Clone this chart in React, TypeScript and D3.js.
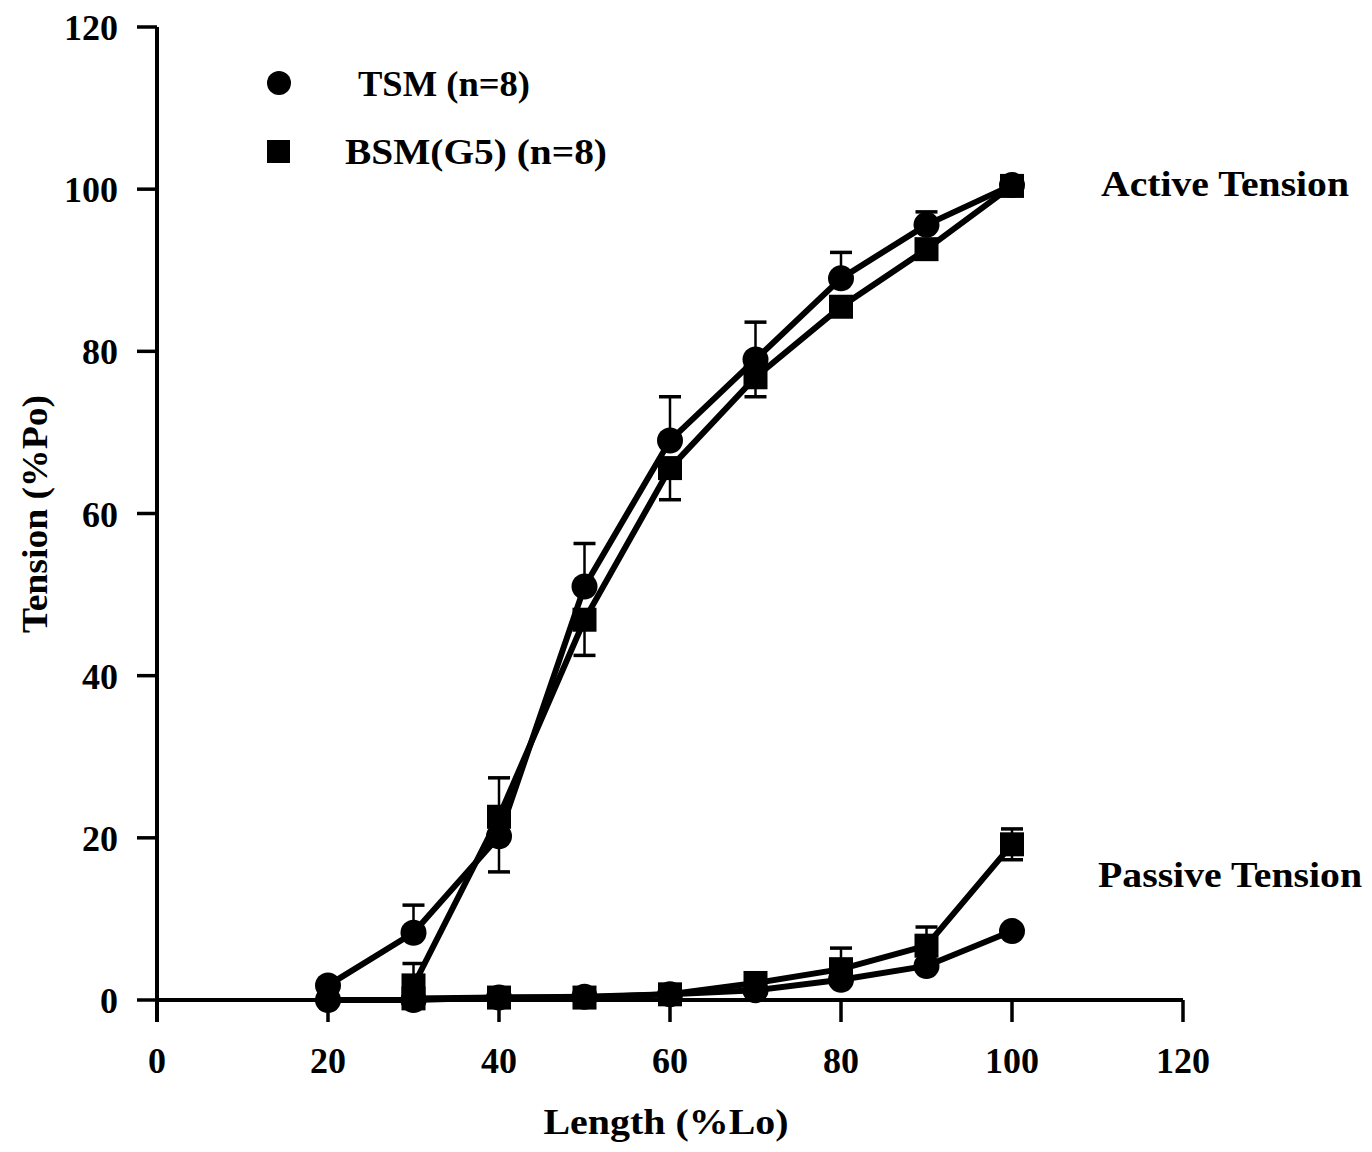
import { line, scaleLinear } from "d3";

const lengths = [20, 30, 40, 50, 60, 70, 80, 90, 100];

const tsmActive = [1.8, 8.3, 20.2, 51, 69, 79, 89, 95.6, 100.5];
const tsmActiveUp = [0, 3.4, 0, 5.3, 5.4, 4.6, 3.2, 1.6, 0];
const tsmActiveDown = [0, 0, 4.4, 0, 0, 0, 0, 0, 0];

const bsmActive = [null, 1.8, 22.6, 46.9, 65.6, 76.8, 85.5, 92.6, 100.4];
const bsmActiveUp = [0, 2.7, 4.8, 0, 0, 0, 0, 0, 0];
const bsmActiveDown = [0, 0, 0, 4.4, 3.9, 2.4, 0, 0, 0];

const tsmPassive = [0, 0, 0.3, 0.4, 0.7, 1.2, 2.5, 4.2, 8.5];
const bsmPassive = [null, 0.2, 0.3, 0.3, 0.7, 2.1, 3.8, 6.7, 19.2];
const bsmPassiveUp = [0, 0, 0, 0, 0, 0, 2.6, 2.3, 1.9];
const bsmPassiveDown = [0, 0, 0, 0, 0, 0, 0, 0, 1.9];

const ticks = [0, 20, 40, 60, 80, 100, 120];

type Pt = { x: number; y: number; up: number; down: number };

function toPoints(values: (number | null)[], up?: number[], down?: number[]): Pt[] {
  const out: Pt[] = [];
  values.forEach((v, i) => {
    if (v === null) return;
    out.push({ x: lengths[i], y: v, up: up ? up[i] : 0, down: down ? down[i] : 0 });
  });
  return out;
}

const series = [
  { shape: "circle", pts: toPoints(tsmActive, tsmActiveUp, tsmActiveDown) },
  { shape: "square", pts: toPoints(bsmActive, bsmActiveUp, bsmActiveDown) },
  { shape: "circle", pts: toPoints(tsmPassive) },
  { shape: "square", pts: toPoints(bsmPassive, bsmPassiveUp, bsmPassiveDown) },
];

const font = "'Liberation Serif', 'Times New Roman', serif";

export default function App() {
  const width = 1372;
  const height = 1152;

  const x = scaleLinear().domain([0, 120]).range([157, 1183]);
  const y = scaleLinear().domain([0, 120]).range([1000, 27]);

  const path = line<Pt>()
    .x((d) => x(d.x))
    .y((d) => y(d.y));

  const cap = 11;

  return (
    <svg
      width={width}
      height={height}
      viewBox={`0 0 ${width} ${height}`}
      style={{ position: "absolute", left: 0, top: 0, background: "#fff" }}
      fontFamily={font}
      fontWeight="bold"
    >
      {/* axes */}
      <line x1={x(0)} x2={x(120)} y1={y(0)} y2={y(0)} stroke="#000" strokeWidth={4} />
      <line x1={x(0)} x2={x(0)} y1={y(0) + 22} y2={y(120)} stroke="#000" strokeWidth={4} />
      {ticks.map((t) => (
        <g key={`y${t}`}>
          <line x1={x(0) - 20} x2={x(0)} y1={y(t)} y2={y(t)} stroke="#000" strokeWidth={3.5} />
          <text x={118} y={y(t) + 13} textAnchor="end" fontSize={36}>
            {t}
          </text>
        </g>
      ))}
      {ticks.map((t) => (
        <g key={`x${t}`}>
          <line x1={x(t)} x2={x(t)} y1={y(0)} y2={y(0) + 22} stroke="#000" strokeWidth={3.5} />
          <text x={x(t)} y={1073} textAnchor="middle" fontSize={36}>
            {t}
          </text>
        </g>
      ))}
      <text x={666} y={1134} textAnchor="middle" fontSize={36} textLength={245} lengthAdjust="spacingAndGlyphs">
        Length (%Lo)
      </text>
      <text
        transform="translate(47,514) rotate(-90)"
        textAnchor="middle"
        fontSize={36}
        textLength={238}
        lengthAdjust="spacingAndGlyphs"
      >
        Tension (%Po)
      </text>

      {/* error bars */}
      {series.map((s, si) =>
        s.pts.map((d, i) => (
          <g key={`e${si}-${i}`} stroke="#000">
            {d.up > 0 && (
              <>
                <line x1={x(d.x)} x2={x(d.x)} y1={y(d.y)} y2={y(d.y + d.up)} strokeWidth={2.5} />
                <line x1={x(d.x) - cap} x2={x(d.x) + cap} y1={y(d.y + d.up)} y2={y(d.y + d.up)} strokeWidth={3.5} />
              </>
            )}
            {d.down > 0 && (
              <>
                <line x1={x(d.x)} x2={x(d.x)} y1={y(d.y)} y2={y(d.y - d.down)} strokeWidth={2.5} />
                <line x1={x(d.x) - cap} x2={x(d.x) + cap} y1={y(d.y - d.down)} y2={y(d.y - d.down)} strokeWidth={3.5} />
              </>
            )}
          </g>
        ))
      )}

      {/* lines */}
      {series.map((s, si) => (
        <path key={`l${si}`} d={path(s.pts) ?? ""} fill="none" stroke="#000" strokeWidth={6} />
      ))}

      {/* markers */}
      {series.map((s, si) =>
        s.pts.map((d, i) =>
          s.shape === "circle" ? (
            <circle key={`m${si}-${i}`} cx={x(d.x)} cy={y(d.y)} r={13} fill="#000" />
          ) : (
            <rect key={`m${si}-${i}`} x={x(d.x) - 12} y={y(d.y) - 12} width={24} height={24} fill="#000" />
          )
        )
      )}

      {/* legend */}
      <circle cx={279} cy={83} r={12} fill="#000" />
      <text x={358} y={96} fontSize={36} textLength={172} lengthAdjust="spacingAndGlyphs">
        TSM (n=8)
      </text>
      <rect x={267} y={140} width={23} height={23} fill="#000" />
      <text x={345} y={164} fontSize={36} textLength={262} lengthAdjust="spacingAndGlyphs">
        BSM(G5) (n=8)
      </text>

      <text x={1101} y={196} fontSize={36} textLength={248} lengthAdjust="spacingAndGlyphs">
        Active Tension
      </text>
      <text x={1098} y={887} fontSize={36} textLength={264} lengthAdjust="spacingAndGlyphs">
        Passive Tension
      </text>
    </svg>
  );
}
